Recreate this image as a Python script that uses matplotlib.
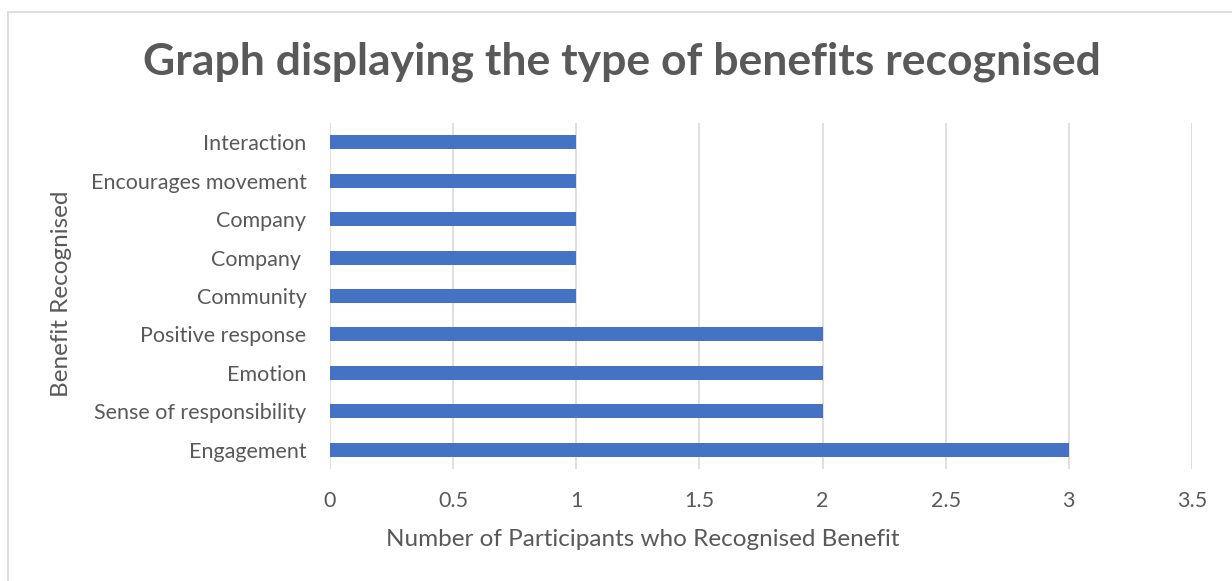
import matplotlib.pyplot as plt
from matplotlib.patches import Rectangle

# Data, listed bottom to top as drawn
benefits = ["Engagement", "Sense of responsibility", "Emotion", "Positive response",
            "Community", "Company ", "Company", "Encourages movement", "Interaction"]
participants = [3, 2, 2, 2, 1, 1, 1, 1, 1]
x_ticks = [0, 0.5, 1, 1.5, 2, 2.5, 3, 3.5]
x_tick_labels = ["0", "0.5", "1", "1.5", "2", "2.5", "3", "3.5"]

plt.rcParams['font.family'] = ['Lato', 'DejaVu Sans']
grey = '#595959'

fig = plt.figure(figsize=(12.32, 5.81), dpi=100)
ax = fig.add_axes([330 / 1232, 1 - 469 / 581, 862 / 1232, 346 / 581])

# chart border, like the Excel chart area
fig.patches.append(Rectangle((8 / 1232, -0.1), 1.2, 1.1 - 12 / 581, transform=fig.transFigure,
                             fill=False, edgecolor='#D9D9D9', linewidth=1.2))

y_pos = range(len(benefits))
ax.barh(y_pos, participants, height=0.364, color='#4472C4', zorder=3)

ax.set_xlim(0, 3.5)
ax.set_ylim(-0.5, len(benefits) - 0.5)
ax.set_xticks(x_ticks)
ax.set_xticklabels(x_tick_labels)
ax.set_yticks(list(y_pos))
ax.set_yticklabels(benefits)
ax.grid(axis='x', color='#D9D9D9', linewidth=1.2, zorder=0)
ax.tick_params(axis='both', length=0, labelsize=15.5, labelcolor=grey)
ax.tick_params(axis='x', pad=16)
ax.tick_params(axis='y', pad=17)
for s in ax.spines.values():
    s.set_visible(False)

fig.text(643 / 1232, 1 - 540 / 581, "Number of Participants who Recognised Benefit",
         fontsize=17.5, color=grey, ha='center', va='center')
fig.text(62 / 1232, 1 - 294 / 581, "Benefit Recognised", rotation=90, fontsize=17.5,
         color=grey, ha='center', va='center')
fig.text(622 / 1232, 1 - 62 / 581, "Graph displaying the type of benefits recognised",
         fontsize=32, fontweight='bold', color=grey, ha='center', va='center')

fig.savefig("out.png", dpi=100)
